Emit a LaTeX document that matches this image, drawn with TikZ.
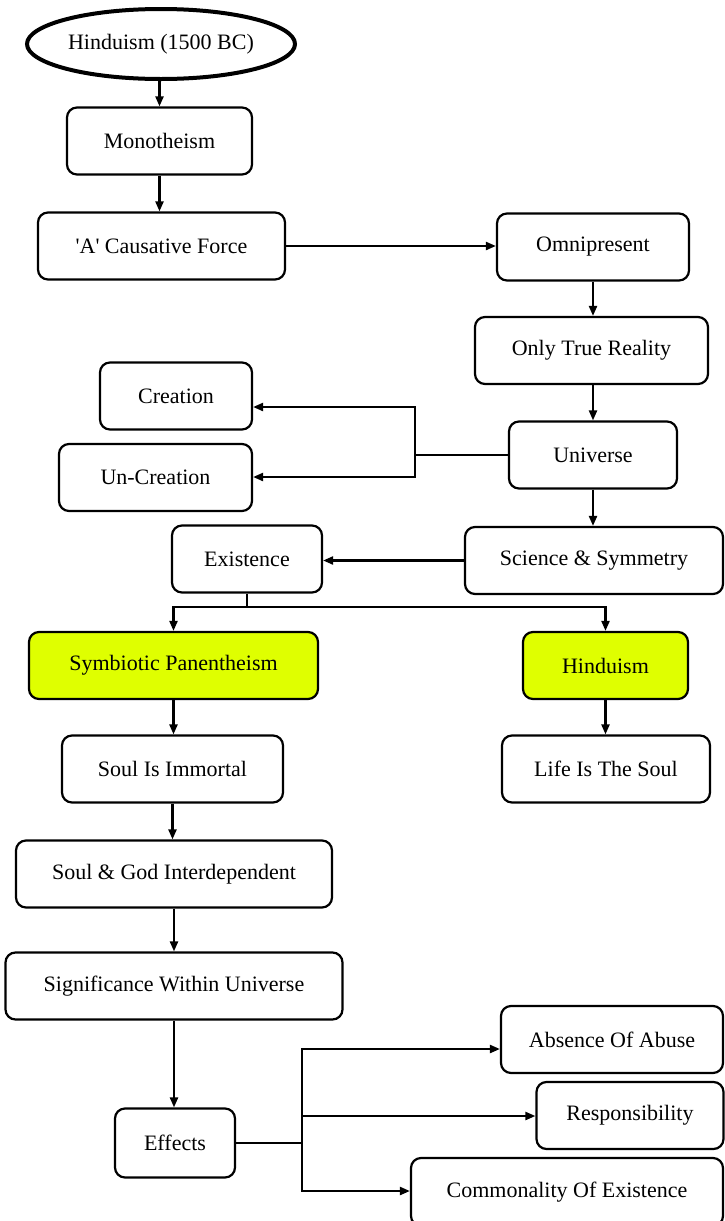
\documentclass[tikz,border=0pt]{standalone}
\usepackage{fontspec}
\setmainfont{Liberation Serif}
\usetikzlibrary{arrows.meta,shapes.geometric}
\definecolor{hiyellow}{RGB}{223,255,0}
\begin{document}
\begin{tikzpicture}[x=1pt,y=-1pt,
  box/.style={draw, rounded corners=10pt, line width=2.2pt, inner sep=0pt, minimum height=67pt,
    font=\fontsize{22}{26}\selectfont},
  hl/.style={box, fill=hiyellow},
  oval/.style={draw, ellipse, line width=4pt, inner sep=0pt, font=\fontsize{22}{26}\selectfont},
  arr/.style={-{Triangle[length=10pt,width=8pt]}, line width=2.2pt},
  ln/.style={line width=2.2pt}]
\useasboundingbox (0,0) rectangle (724,1221);

\node[oval, minimum width=268pt, minimum height=70pt] (ell) at (161,44) {Hinduism (1500 BC)};
\node[box, minimum width=185pt] (mono) at (159.5,141) {Monotheism};
\node[box, minimum width=247pt] (caus) at (161.5,246) {\textquotesingle A\textquotesingle{} Causative Force};
\node[box, minimum width=192pt] (omni) at (593,247) {Omnipresent};
\node[box, minimum width=233pt] (otr) at (591.5,350.5) {Only True Reality};
\node[box, minimum width=168pt] (uni) at (593,455) {Universe};
\node[box, minimum width=152pt] (crea) at (176,396) {Creation};
\node[box, minimum width=193pt] (ucrea) at (155.5,477.5) {Un-Creation};
\node[box, minimum width=258pt] (sci) at (594,560.5) {Science \& Symmetry};
\node[box, minimum width=150pt] (exist) at (247,559) {Existence};
\node[hl, minimum width=289pt] (symb) at (173.5,665.5) {Symbiotic Panentheism};
\node[hl, minimum width=165pt] (hind) at (605.5,665.5) {Hinduism};
\node[box, minimum width=221pt] (soul) at (172.5,769) {Soul Is Immortal};
\node[box, minimum width=208pt] (life) at (606,769) {Life Is The Soul};
\node[box, minimum width=316pt] (sg) at (174,874) {Soul \& God Interdependent};
\node[box, minimum width=337pt] (sig) at (174,986) {Significance Within Universe};
\node[box, minimum width=120pt, minimum height=69pt] (eff) at (175,1143) {Effects};
\node[box, minimum width=222pt] (abs) at (612,1039.5) {Absence Of Abuse};
\node[box, minimum width=187pt] (resp) at (630,1115.5) {Responsibility};
\node[box, minimum width=312pt, minimum height=68pt] (comm) at (567,1192) {Commonality Of Existence};

% connectors
\draw[arr] (mono.north |- ell.south) -- (mono.north);
\draw[arr] (mono.south) -- (mono.south |- caus.north);
\draw[arr] (caus.east) -- (caus.east -| omni.west);
\draw[arr] (omni.south) -- (omni.south |- otr.north);
\draw[arr] (uni.north |- otr.south) -- (uni.north);
\coordinate (jc) at (415,407);
\coordinate (ju) at (415,477);
\coordinate (jm) at (415,455);
\draw[ln] (uni.west) -- (jm);
\draw[arr] (jm) -- (jc) -- (jc -| crea.east);
\draw[arr] (jm) -- (ju) -- (ju -| ucrea.east);
\draw[arr] (uni.south) -- (uni.south |- sci.north);
\draw[arr] (sci.west) -- (sci.west -| exist.east);
\coordinate (je) at (247,607);
\draw[ln] (exist.south) -- (je);
\draw[arr] (je) -| (symb.north);
\draw[arr] (je) -| (hind.north);
\draw[arr] (symb.south) -- (symb.south |- soul.north);
\draw[arr] (hind.south) -- (hind.south |- life.north);
\draw[arr] (soul.south) -- (soul.south |- sg.north);
\draw[arr] (sg.south) -- (sg.south |- sig.north);
\draw[arr] (sig.south) -- (sig.south |- eff.north);
\coordinate (jf) at (302,1143);
\coordinate (ja) at (302,1049);
\coordinate (jr) at (302,1116);
\coordinate (jk) at (302,1191);
\draw[ln] (eff.east) -- (jf);
\draw[arr] (jf) -- (ja) -- (ja -| abs.west);
\draw[arr] (jf) -- (jr) -- (jr -| resp.west);
\draw[arr] (jf) -- (jk) -- (jk -| comm.west);
\end{tikzpicture}
\end{document}
